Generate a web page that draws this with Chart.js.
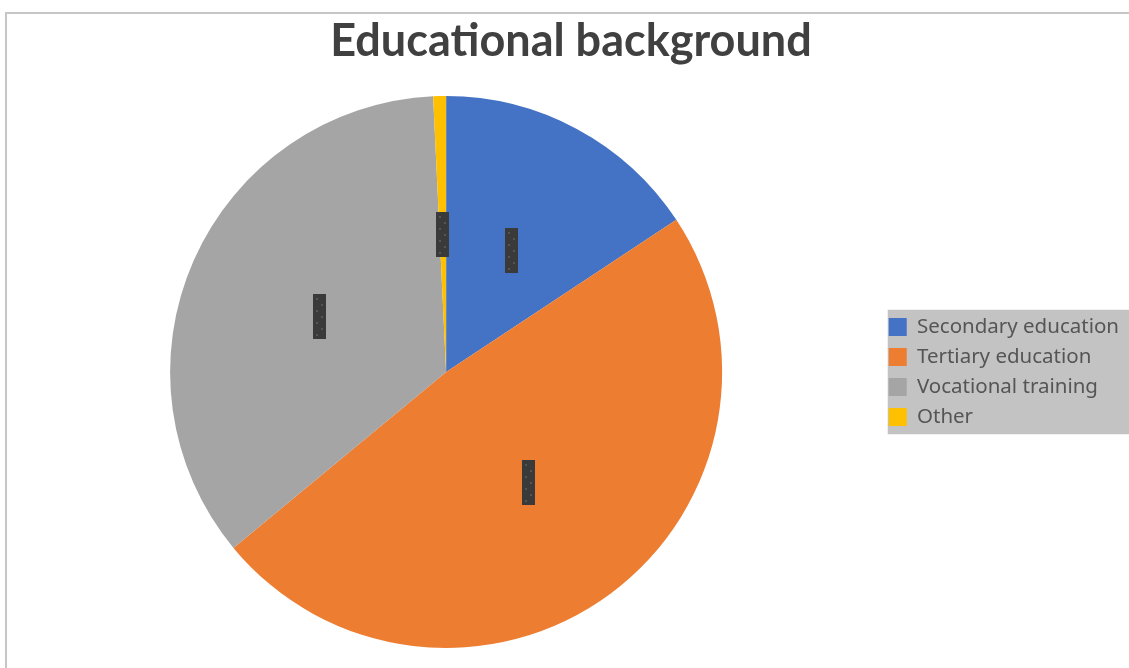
<!DOCTYPE html>
<html>
<head>
<meta charset="utf-8">
<script src="https://cdn.jsdelivr.net/npm/chart.js@4/dist/chart.umd.min.js"></script>
<style>
  html, body { margin: 0; padding: 0; background: #ffffff; }
  #wrap { position: relative; width: 1129px; height: 668px; }
</style>
</head>
<body>
<div id="wrap"><canvas id="c" width="1129" height="668"></canvas></div>
<script>
const titleText = "Educational background";
const categories = ["Secondary education", "Tertiary education", "Vocational training", "Other"];
const shares = [15.7, 48.3, 35.25, 0.75];
const sliceColors = ["#4472C4", "#ED7D31", "#A5A5A5", "#FFC000"];

const frameAndLegendBg = {
  id: 'frameAndLegendBg',
  beforeDraw(chart) {
    const ctx = chart.ctx;
    ctx.save();
    ctx.fillStyle = '#ffffff';
    ctx.fillRect(0, 0, chart.width, chart.height);
    ctx.fillStyle = '#c6c6c6';
    ctx.fillRect(5, 12, chart.width - 5, 2);
    ctx.fillRect(5, 12, 2, chart.height - 12);
    const lg = chart.legend;
    if (lg && lg.legendHitBoxes && lg.legendHitBoxes.length) {
      const hb = lg.legendHitBoxes;
      const top = hb[0].top - 7;
      const bottom = hb[hb.length - 1].top + hb[hb.length - 1].height + 7;
      const left = hb[0].left - 1;
      ctx.fillStyle = '#c3c3c3';
      ctx.fillRect(left, top, chart.width - left, bottom - top);
    }
    ctx.restore();
  }
};

const redactedLabels = {
  id: 'redactedLabels',
  afterDatasetsDraw(chart) {
    const ctx = chart.ctx;
    const meta = chart.getDatasetMeta(0);
    ctx.save();
    meta.data.forEach(arc => {
      const p = arc.tooltipPosition();
      const w = 13, h = 45;
      const x = Math.round(p.x - w / 2), y = Math.round(p.y - h / 2);
      ctx.fillStyle = '#3a3a3a';
      ctx.fillRect(x, y, w, h);
      ctx.fillStyle = '#555555';
      for (let r = 0; r < 7; r++) {
        const dy = y + 4 + r * 6;
        const dx = x + (r % 2 === 0 ? 3 : 8);
        ctx.fillRect(dx, dy, 2, 2);
      }
    });
    ctx.restore();
  }
};

new Chart(document.getElementById('c'), {
  type: 'pie',
  data: {
    labels: categories,
    datasets: [{
      data: shares,
      backgroundColor: sliceColors,
      borderWidth: 0
    }]
  },
  options: {
    responsive: false,
    animation: false,
    layout: { padding: { left: 13, right: 0, top: 0, bottom: 20 } },
    plugins: {
      title: {
        display: true,
        text: titleText,
        color: '#404040',
        font: { family: 'Lato', size: 45, weight: 'bold' },
        padding: { top: 14, bottom: 28 }
      },
      legend: {
        display: true,
        position: 'right',
        align: 'center',
        fullSize: false,
        labels: {
          boxWidth: 18,
          boxHeight: 18,
          padding: 9.5,
          color: '#555555',
          font: { family: 'Noto Sans', size: 20.5 }
        }
      },
      tooltip: { enabled: false }
    }
  },
  plugins: [frameAndLegendBg, redactedLabels]
});
</script>
</body>
</html>
